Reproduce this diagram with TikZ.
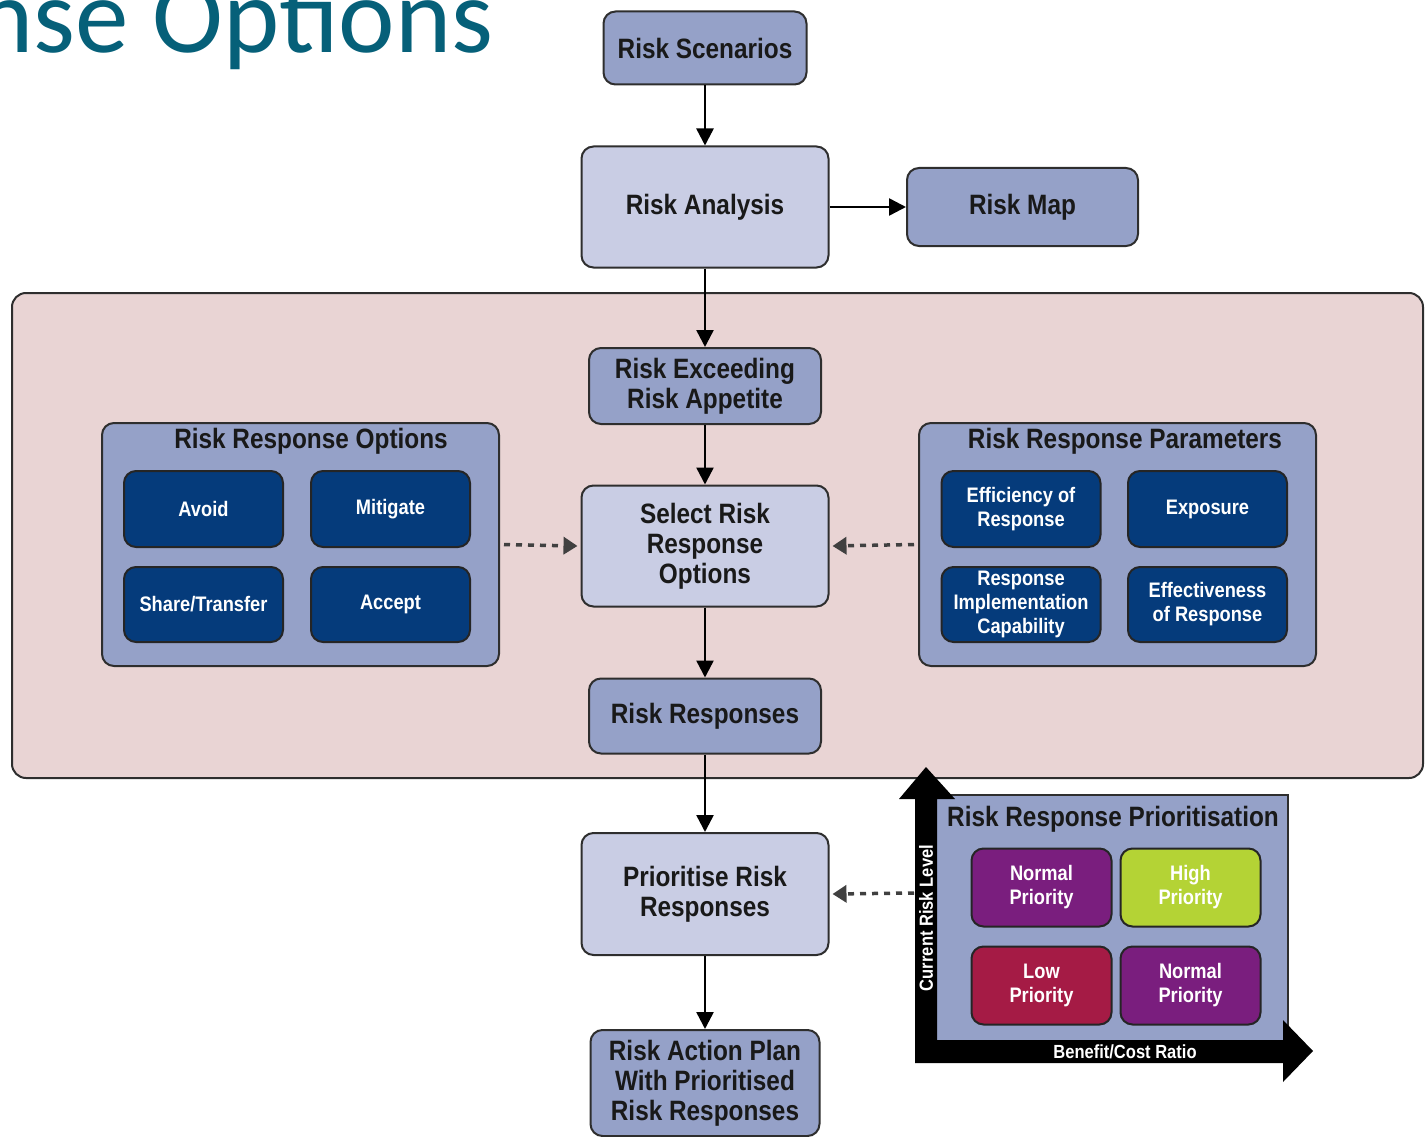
\documentclass[tikz,border=0pt]{standalone}
\usepackage{fontspec}
\setmainfont{Liberation Sans}[FakeStretch=0.87]
\newfontfamily\headfont{Carlito}
\usetikzlibrary{arrows.meta}

\definecolor{midblue}{HTML}{95A1C8}
\definecolor{paleblue}{HTML}{C9CDE4}
\definecolor{navy}{HTML}{053B7B}
\definecolor{zonepink}{HTML}{E9D4D4}
\definecolor{prpurple}{HTML}{7A1E7E}
\definecolor{prlime}{HTML}{B4D335}
\definecolor{prcrimson}{HTML}{A51B45}
\definecolor{headteal}{HTML}{066079}
\definecolor{edge}{HTML}{2E2E2E}

\tikzset{
  box/.style={draw=edge, line width=2pt, rounded corners=12pt, inner sep=0pt,
    align=center, font=\bfseries\fontsize{28}{30}\selectfont, text=black!90},
  mainbox/.style={box, fill=midblue},
  paletbox/.style={box, fill=paleblue},
  panel/.style={draw=edge, line width=2pt, rounded corners=12pt, fill=midblue, inner sep=0pt},
  cell/.style={draw=edge!80!black, line width=2pt, rounded corners=12pt, inner sep=0pt,
    minimum width=159pt, minimum height=76pt, align=center, text=white,
    font=\bfseries\fontsize{21}{24}\selectfont},
  optcell/.style={cell, fill=navy},
  pricell/.style={cell, minimum width=140pt, minimum height=78pt},
  paneltitle/.style={font=\bfseries\fontsize{28}{30}\selectfont, text=black!90, inner sep=0pt},
  flow/.style={line width=2.5pt, draw=black, -{Triangle[length=17pt,width=17pt]}},
  feed/.style={line width=3.5pt, draw=black!75, dash pattern=on 6pt off 6pt,
    -{Triangle[length=14pt,width=17pt]}, shorten >=0pt}
}

\begin{document}
\begin{tikzpicture}[x=1pt,y=-1pt]
\useasboundingbox (0,0) rectangle (1425,1137);

% slide heading, partly outside the frame
\node[anchor=base west, inner sep=0pt, text=headteal,
  font=\headfont\fontsize{107}{110}\selectfont] (heading) at (-23,53) {nse Options};

% shaded zone around the response selection
\node[draw=edge, line width=2pt, rounded corners=14pt, fill=zonepink,
  minimum width=1411pt, minimum height=485pt, inner sep=0pt] (zone) at (717.5,535.5) {};

% main column
\node[mainbox, minimum width=203pt, minimum height=73pt] (scen) at (705,48) {Risk Scenarios};
\node[paletbox, minimum width=247pt, minimum height=121pt] (ana) at (705,207) {Risk Analysis};
\node[mainbox, minimum width=231pt, minimum height=78pt] (map) at (1022.5,207) {Risk Map};
\node[mainbox, minimum width=232pt, minimum height=76pt] (exceed) at (705,386) {Risk Exceeding\\Risk Appetite};
\node[paletbox, minimum width=247pt, minimum height=121pt] (select) at (705,546) {Select Risk\\Response\\Options};
\node[mainbox, minimum width=232pt, minimum height=75pt] (resp) at (705,716) {Risk Responses};
\node[paletbox, minimum width=247pt, minimum height=122pt] (prio) at (705,894) {Prioritise Risk\\Responses};
\node[mainbox, minimum width=229pt, minimum height=106pt] (plan) at (705,1083) {Risk Action Plan\\With Prioritised\\Risk Responses};

% response options panel
\node[panel, minimum width=397pt, minimum height=243pt] (opts) at (300.5,544.5) {};
\node[paneltitle] (optstitle) at (311,441) {Risk Response Options};
\node[optcell] (avoid) at (203.5,509) {Avoid};
\node[optcell] (mitig) at (390.5,509) {Mitigate};
\node[optcell, minimum height=75pt] (share) at (203.5,604.5) {Share/Transfer};
\node[optcell, minimum height=75pt] (accept) at (390.5,604.5) {Accept};

% response parameters panel
\node[panel, minimum width=397pt, minimum height=243pt] (params) at (1117.5,544.5) {};
\node[paneltitle] (paramstitle) at (1125,441) {Risk Response Parameters};
\node[optcell] (effic) at (1021,509) {Efficiency of\\Response};
\node[optcell] (expo) at (1207.5,509) {Exposure};
\node[optcell, minimum height=75pt] (impl) at (1021,604.5) {Response\\Implementation\\Capability};
\node[optcell, minimum height=75pt] (effect) at (1207.5,604.5) {Effectiveness\\of Response};

% prioritisation grid with its two axes
\node[draw=edge, line width=2pt, fill=midblue, minimum width=352pt, minimum height=246pt,
  inner sep=0pt] (grid) at (1111.5,918) {};
\fill[black] (915,1063) -- (915,799) -- (899,799) -- (926,767) -- (955,799) -- (937,799)
  -- (937,1040) -- (1283,1040) -- (1283,1020) -- (1313,1051) -- (1283,1082) -- (1283,1063) -- cycle;
\node[paneltitle] (gridtitle) at (1113,819) {Risk Response Prioritisation};
\node[pricell, fill=prpurple] (np1) at (1041.5,887.5) {Normal\\Priority};
\node[pricell, fill=prlime] (hp) at (1190.5,887.5) {High\\Priority};
\node[pricell, fill=prcrimson] (lp) at (1041.5,985.5) {Low\\Priority};
\node[pricell, fill=prpurple] (np2) at (1190.5,985.5) {Normal\\Priority};
\node[rotate=90, text=white, inner sep=0pt, font=\bfseries\fontsize{19}{20}\selectfont]
  (ylabel) at (926,918) {Current Risk Level};
\node[text=white, inner sep=0pt, font=\bfseries\fontsize{19}{20}\selectfont]
  (xlabel) at (1125,1052) {Benefit/Cost Ratio};
\coordinate (axisfoot) at (914,893);

% connectors
\draw[flow] (scen.south) -- (ana.north);
\draw[flow] (ana.east) -- (map.west);
\draw[flow] (ana.south) -- (exceed.north);
\draw[flow] (exceed.south) -- (select.north);
\draw[flow] (select.south) -- (resp.north);
\draw[flow] (resp.south) -- (prio.north);
\draw[flow] (prio.south) -- (plan.north);
\draw[feed] (opts.east) ++(4pt,0) -- ([xshift=-3pt]select.west);
\draw[feed] (params.west) ++(-4pt,0) -- ([xshift=3pt]select.east);
\draw[feed] (axisfoot) -- ([xshift=3pt]prio.east);
\end{tikzpicture}
\end{document}
